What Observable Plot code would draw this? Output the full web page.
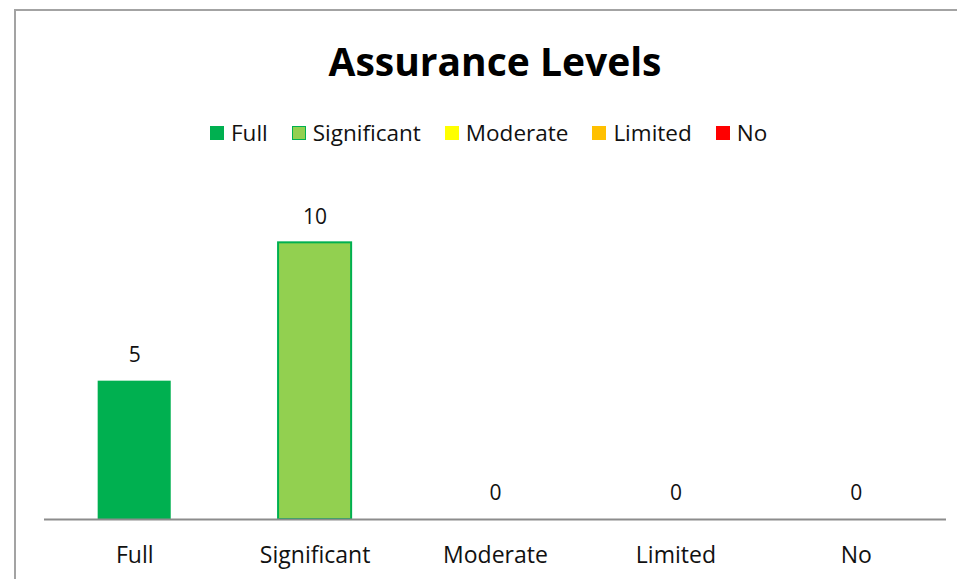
<!DOCTYPE html>
<html>
<head>
<meta charset="utf-8">
<script src="https://cdn.jsdelivr.net/npm/d3@7"></script>
<script src="https://cdn.jsdelivr.net/npm/@observablehq/plot@0.6"></script>
<style>
  html, body { margin: 0; padding: 0; background: #fff; }
  #wrap { position: relative; width: 957px; height: 579px; overflow: hidden; font-family: "Open Sans", Lato, sans-serif; }
  #frame { position: absolute; left: 14px; top: 9px; width: 1000px; height: 700px; border: 2px solid #a3a3a3; box-sizing: border-box; }
  #title { position: absolute; left: 0; top: 36px; width: 990px; text-align: center; font-size: 39px; font-weight: bold; color: #000; line-height: 50px; }
  #legend { position: absolute; left: 210px; top: 117px; display: flex; align-items: center; font-size: 22.5px; color: #111; white-space: nowrap; }
  .item { display: flex; align-items: center; margin-right: 24px; }
  .sw { width: 14px; height: 14px; margin-right: 7px; box-sizing: border-box; }
  #chart { position: absolute; left: 0; top: 0; }
</style>
</head>
<body>
<div id="wrap">
  <div id="frame"></div>
  <div id="chart"></div>
  <div id="title">Assurance Levels</div>
  <div id="legend"></div>
</div>
<script>
const categories = ["Full", "Significant", "Moderate", "Limited", "No"];
const values = [5, 10, 0, 0, 0];
const colors = ["#00b050", "#92d050", "#ffff00", "#ffc000", "#ff0000"];
const strokes = ["#00b050", "#00b050", "#ffff00", "#ffc000", "#ff0000"];

const data = categories.map((c, i) => ({category: c, value: values[i], fill: colors[i], stroke: strokes[i]}));

const legend = document.getElementById("legend");
categories.forEach((c, i) => {
  const it = document.createElement("div");
  it.className = "item";
  const sw = document.createElement("div");
  sw.className = "sw";
  sw.style.background = colors[i];
  if (i === 1) sw.style.border = "1.5px solid #00b050";
  it.appendChild(sw);
  const t = document.createElement("span");
  t.textContent = c;
  it.appendChild(t);
  legend.appendChild(it);
});

const plot = Plot.plot({
  width: 957,
  height: 579,
  marginLeft: 44,
  marginRight: 11,
  marginBottom: 60,
  marginTop: 187,
  style: {fontFamily: "'Open Sans', Lato, sans-serif", background: "transparent"},
  x: {domain: categories, paddingInner: 0.595, paddingOuter: 0.2975, round: false, label: null},
  y: {domain: [0, 12], axis: null},
  marks: [
    Plot.barY(data, {x: "category", y: "value", fill: d => d.fill, stroke: d => d.stroke, strokeWidth: d => d.category === "Significant" ? 2 : 0}),
    Plot.ruleY([0], {stroke: "#8c8c8c", strokeWidth: 2}),
    Plot.text(data, {x: "category", y: "value", text: d => String(d.value), dy: -26, fontSize: 21, fill: "#111"}),
    Plot.axisX({tickSize: 0, tickPadding: 27, fontSize: 23, fill: "#111", label: null})
  ]
});
document.getElementById("chart").appendChild(plot);
</script>
</body>
</html>
